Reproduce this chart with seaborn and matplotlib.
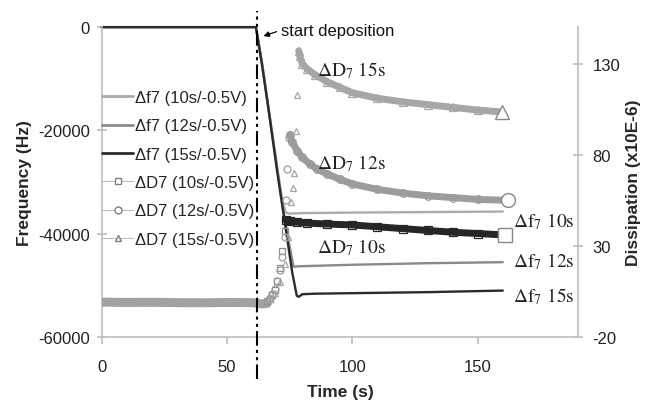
import numpy as np
import pandas as pd
import matplotlib.pyplot as plt
from matplotlib.lines import Line2D
import seaborn as sns

# frequency shift (Hz), left axis
t_f10 = [0, 61.5, 64, 67, 70, 72, 73.4, 75, 80, 100, 130, 160]
f10 = [0, 0, -7000, -17000, -27000, -33500, -35900, -36100, -36000, -35900, -35800, -35700]
t_f12 = [0, 61.5, 64, 67, 70, 72, 74, 76.5, 78, 100, 130, 160]
f12 = [0, 0, -7200, -17500, -27500, -34000, -40000, -46400, -46300, -46000, -45700, -45500]
t_f15 = [0, 61.5, 64, 67, 70, 72, 74, 76, 77.8, 78.6, 80, 85, 100, 130, 160]
f15 = [0, 0, -7500, -17500, -28000, -34500, -41000, -47500, -52000, -52200, -51700, -51600, -51500, -51300, -51000]

# dissipation (x10E-6), right axis
base_t = [0, 10, 20, 30, 40, 50, 60, 62, 64, 66]
base_D = [-0.8, -1.0, -0.9, -1.1, -1.2, -1.0, -1.1, -1.4, -1.8, -1.5]

rise_t10 = [66, 67, 68, 69, 70, 71, 72, 73]
rise_D10 = [0, 1, 3, 6, 11, 18, 27, 38]
decay_t10 = [73.5, 75, 78, 82, 90, 100, 110, 120, 130, 140, 150, 160.7]
decay_D10 = [44, 43.5, 43, 42.5, 42, 41.5, 40.5, 39.5, 38.5, 37.5, 36.8, 36]

rise_t12 = [66, 67, 68, 69, 70, 71, 72, 73, 73.5, 74, 74.6]
rise_D12 = [0, 1.5, 3.5, 6.5, 11, 17, 24, 35, 55, 72, 89]
decay_t12 = [75, 76, 78, 80, 83, 86, 90, 95, 100, 110, 120, 130, 140, 150, 162]
decay_D12 = [91, 87, 82, 78.5, 75, 72, 69.5, 66.5, 64, 61, 59, 57.5, 56.5, 55.5, 55]

rise_t15 = [67, 69, 71, 73, 74.5, 75.5, 76.3, 76.8, 77.3, 77.8]
rise_D15 = [1, 4, 10, 20, 35, 54, 62, 70, 93, 113]
decay_t15 = [78.6, 79, 80, 82, 85, 90, 95, 100, 110, 120, 130, 140, 150, 159.5]
decay_D15 = [137, 134, 130, 127, 124, 120, 117, 114, 111, 109, 107.5, 106, 104.5, 103.5]

legend_labels = ['\u0394f7 (10s/-0.5V)', '\u0394f7 (12s/-0.5V)', '\u0394f7 (15s/-0.5V)',
                 '\u0394D7 (10s/-0.5V)', '\u0394D7 (12s/-0.5V)', '\u0394D7 (15s/-0.5V)']

sns.set_theme(style='white')
plt.rcParams['font.family'] = ['Liberation Sans', 'DejaVu Sans']
plt.rcParams['mathtext.fontset'] = 'stix'
plt.rcParams['axes.unicode_minus'] = False

c_f = ['#ababab', '#8a8a8a', '#2b2b2b']
c_D = ['#262626', '#9c9c9c', '#a6a6a6']
c_rise = ['#8c8c8c', '#9c9c9c', '#a6a6a6']
axis_gray = '#c0c0c0'

fig = plt.figure(figsize=(6.48, 4.02), dpi=100)
ax = fig.add_axes([0.157, 0.159, 0.735, 0.771])
ax2 = ax.twinx()

# frequency curves
for t, f, c in zip([t_f10, t_f12, t_f15], [f10, f12, f15], c_f):
    sns.lineplot(x=t, y=f, ax=ax, color=c, linewidth=1.7, sort=False, clip_on=False)

# dissipation: dense bands plus sparse rise points
sns.lineplot(x=base_t, y=base_D, ax=ax2, color='#a2a2a2', linewidth=6.5, sort=False,
             solid_capstyle='round')
rises = [(rise_t10, rise_D10, 's'), (rise_t12, rise_D12, 'o'), (rise_t15, rise_D15, '^')]
decays = [(decay_t10, decay_D10, 's'), (decay_t12, decay_D12, 'o'), (decay_t15, decay_D15, '^')]
for (t, d, m), c in zip(decays, c_D):
    sns.lineplot(x=t, y=d, ax=ax2, color=c, linewidth=5, sort=False, solid_capstyle='round')
    ax2.plot(t[:-1], d[:-1], marker=m, ms=5.5, mfc='none', mec=c, mew=0.9, ls='none')
    ax2.plot(t[-1], d[-1], marker=m, ms=10, mfc='white', mec='#888888', mew=1, ls='none')
for (t, d, m), c in zip(rises, c_rise):
    ax2.plot(t, d, marker=m, ms=5, mfc='none', mec=c, mew=0.9, ls='none')

ax.set_xlim(0, 190)
ax.set_xticks([0, 50, 100, 150])
ax.set_ylim(-60000, 0)
ax.set_yticks([-60000, -40000, -20000, 0])
ax2.set_ylim(-20, 150)
ax2.set_yticks([-20, 30, 80, 130])

for s in ['top', 'right']:
    ax.spines[s].set_visible(False)
for s in ['top', 'left', 'bottom']:
    ax2.spines[s].set_visible(False)
for s in ['left', 'bottom']:
    ax.spines[s].set_color(axis_gray)
ax2.spines['right'].set_color(axis_gray)

ax.tick_params(axis='y', direction='inout', length=7, color=axis_gray, labelsize=12,
               labelcolor='#222222', pad=5, left=True)
ax.tick_params(axis='x', direction='out', length=5, color=axis_gray, labelsize=12,
               labelcolor='#222222', pad=11, bottom=True)
ax2.tick_params(axis='y', direction='inout', length=7, color=axis_gray, labelsize=12,
                labelcolor='#222222', pad=7, right=True)

ax.set_xlabel('Time (s)', fontsize=12.5, fontweight='bold', labelpad=7)
ax.set_ylabel('Frequency (Hz)', fontsize=12.5, fontweight='bold', labelpad=4)
ax2.set_ylabel('Dissipation (x10E-6)', fontsize=12.5, fontweight='bold', labelpad=4)

# start of deposition marker
ax2.axvline(61.9, ymin=-0.135, ymax=1.052, clip_on=False, color='black', lw=1.5,
            ls=(0, (7, 2, 1.5, 2, 1.5, 2)))
ax.text(71.6, -700, 'start deposition', fontsize=12, va='center', ha='left', color='#111111')
ax.annotate('', xy=(63.5, -1900), xytext=(70.8, -700),
            arrowprops=dict(arrowstyle='-|>', color='black', lw=0.9, mutation_scale=8))

# curve labels
serif = dict(fontsize=14, color='#222222', va='baseline', ha='left')
ax2.text(85.7, 123.4, r'$\mathrm{\Delta D_7\ 15s}$', **serif)
ax2.text(85.7, 72.5, r'$\mathrm{\Delta D_7\ 12s}$', **serif)
ax2.text(85.7, 26.5, r'$\mathrm{\Delta D_7\ 10s}$', **serif)
ax.text(163.9, -38500, r'$\mathrm{\Delta f_7\ 10s}$', **serif)
ax.text(163.9, -46300, r'$\mathrm{\Delta f_7\ 12s}$', **serif)
ax.text(163.9, -53000, r'$\mathrm{\Delta f_7\ 15s}$', **serif)

handles = [Line2D([], [], color=c, lw=2) for c in c_f]
handles += [Line2D([], [], color='#bdbdbd', lw=0.8, marker=m, ms=5, mfc='white', mec='#808080')
            for m in ['s', 'o', '^']]
ax2.legend(handles, legend_labels, loc='upper left', bbox_to_anchor=(0.0, 0.797),
           frameon=False, fontsize=12, handlelength=1.9, handletextpad=0.1,
           labelspacing=0.8, borderaxespad=0, borderpad=0)

fig.savefig('out.png', dpi=100)
